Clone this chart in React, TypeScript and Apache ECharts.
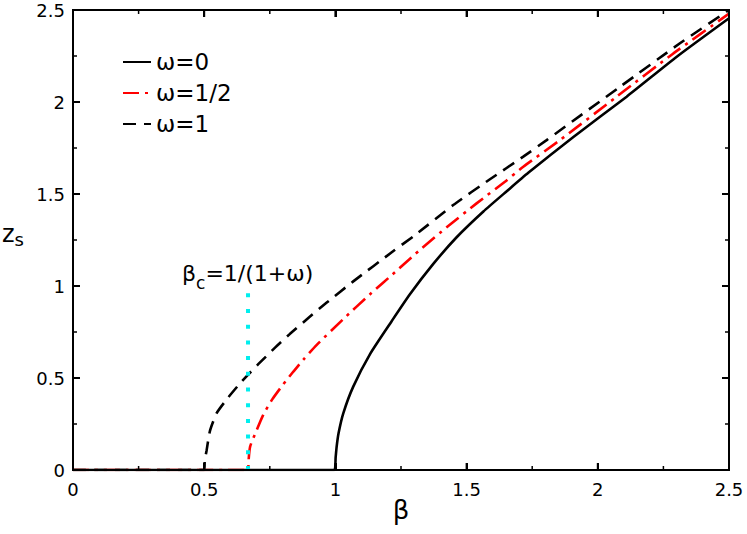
import React, { useEffect, useRef } from "react";
import * as echarts from "echarts";

// ω = 0 (solid black)
const beta0 = [0, 0.996, 1.001, 1.005, 1.012, 1.03, 1.068, 1.132, 1.215, 1.284, 1.373, 1.462, 1.564, 1.653, 1.735, 1.907, 2.11, 2.301, 2.5];
const z0 = [0, 0, 0.07, 0.13, 0.2, 0.308, 0.453, 0.63, 0.81, 0.955, 1.12, 1.265, 1.405, 1.515, 1.615, 1.81, 2.029, 2.246, 2.455];

// ω = 1/2 (red dash-dot)
const betaHalf = [0, 0.667, 0.669, 0.675, 0.7, 0.725, 0.76, 0.801, 0.84, 0.878, 0.929, 1.03, 1.132, 1.227, 1.329, 1.43, 1.538, 1.646, 1.716, 1.856, 2.072, 2.288, 2.5];
const zHalf = [0, 0, 0.05, 0.127, 0.217, 0.3, 0.385, 0.465, 0.535, 0.6, 0.68, 0.82, 0.955, 1.075, 1.205, 1.326, 1.449, 1.567, 1.648, 1.793, 2.029, 2.264, 2.48];

// ω = 1 (black dashed)
const beta1 = [0, 0.5, 0.502, 0.509, 0.522, 0.548, 0.592, 0.63, 0.662, 0.706, 0.77, 0.827, 0.9, 0.967, 1.068, 1.221, 1.303, 1.449, 1.589, 1.716, 1.805, 2.085, 2.313, 2.5];
const z1 = [0, 0, 0.05, 0.105, 0.213, 0.31, 0.395, 0.46, 0.51, 0.575, 0.665, 0.74, 0.83, 0.91, 1.025, 1.19, 1.276, 1.44, 1.58, 1.703, 1.793, 2.083, 2.319, 2.5];

// critical line β_c = 1/(1+ω) for ω = 1/2
const betaC = [0.667, 0.667];
const zC = [0, 0.96];

const seriesNames = ["ω=0", "ω=1/2", "ω=1"];
const axisMin = 0;
const axisMax = 2.5;
const axisStep = 0.5;
const majorTicks = [0, 0.5, 1, 1.5, 2, 2.5];
const minorTicks = [0.25, 0.75, 1.25, 1.75, 2.25];

const pairs = (xs: number[], ys: number[]) => xs.map((x, i) => [x, ys[i]]);

const FONT = "DejaVu Sans";
const W = 747;
const H = 534;
const GRID = { left: 73, right: 18, top: 10, bottom: 64 };

const frame = [
  [axisMin, axisMin],
  [axisMax, axisMin],
  [axisMax, axisMax],
  [axisMin, axisMax],
  [axisMin, axisMin],
];

const labelGraphics = [
  {
    id: "zs",
    type: "text",
    left: 2,
    top: 220,
    style: {
      text: "{a|z}{b|s}",
      rich: {
        a: { fontFamily: FONT, fontSize: 24, fill: "#000", lineHeight: 30 },
        b: { fontFamily: FONT, fontSize: 18, fill: "#000", lineHeight: 30, padding: [10, 0, 0, 0] },
      },
    },
  },
  {
    id: "betac",
    type: "text",
    left: 182,
    top: 256,
    style: {
      text: "{a|β}{b|c}{a|=1/(1+ω)}",
      rich: {
        a: { fontFamily: FONT, fontSize: 22, fill: "#000", lineHeight: 30 },
        b: { fontFamily: FONT, fontSize: 17, fill: "#000", lineHeight: 30, padding: [18, 0, 0, 0] },
      },
    },
  },
];

export default function App() {
  const ref = useRef<HTMLDivElement>(null);

  useEffect(() => {
    document.body.style.margin = "0";
    if (!ref.current) return;
    const chart = echarts.init(ref.current, null, { renderer: "svg" });

    const axisCommon = (withLabels: boolean) => ({
      type: "value",
      min: axisMin,
      max: axisMax,
      interval: axisStep,
      axisLine: { show: true, onZero: false, lineStyle: { color: "#000", width: 2 } },
      axisTick: { show: true, inside: true, length: 7, lineStyle: { color: "#000", width: 2 } },
      minorTick: { show: false },
      splitLine: { show: false },
      minorSplitLine: { show: false },
      axisLabel: withLabels
        ? { show: true, fontFamily: FONT, fontSize: 18, color: "#000" }
        : { show: false },
    });

    chart.setOption({
      animation: false,
      grid: { ...GRID, containLabel: false },
      legend: {
        data: seriesNames,
        orient: "vertical",
        left: 117,
        top: 45,
        itemWidth: 28,
        itemHeight: 14,
        itemGap: 7,
        itemStyle: { opacity: 0 },
        textStyle: { fontFamily: FONT, fontSize: 23, color: "#000", lineHeight: 24 },
      },
      xAxis: [
        {
          ...axisCommon(true),
          position: "bottom",
          name: "β",
          nameLocation: "middle",
          nameGap: 27,
          nameMoveOverlap: false,
          nameTextStyle: { fontFamily: FONT, fontSize: 26, color: "#000" },
          axisLabel: { show: true, margin: 10, fontFamily: FONT, fontSize: 18, color: "#000" },
        },
        { ...axisCommon(false), position: "top" },
      ],
      yAxis: [
        {
          ...axisCommon(true),
          position: "left",
          axisLabel: { show: true, margin: 8, fontFamily: FONT, fontSize: 18, color: "#000", padding: [5, 0, 0, 0] },
        },
        { ...axisCommon(false), position: "right" },
      ],
      series: [
        {
          name: "frame",
          type: "line",
          data: frame,
          symbol: "none",
          lineStyle: { color: "#000", width: 2, type: "solid" },
          itemStyle: { color: "#000" },
        },
        {
          name: seriesNames[0],
          type: "line",
          data: pairs(beta0, z0),
          symbol: "none",
          smooth: 0.2,
          lineStyle: { color: "#000", width: 2.6, type: "solid" },
          itemStyle: { color: "#000" },
        },
        {
          name: seriesNames[1],
          type: "line",
          data: pairs(betaHalf, zHalf),
          symbol: "none",
          smooth: 0.2,
          lineStyle: { color: "#ff0000", width: 2.6, type: [16, 6, 3, 6], cap: "butt" },
          itemStyle: { color: "#ff0000" },
        },
        {
          name: seriesNames[2],
          type: "line",
          data: pairs(beta1, z1),
          symbol: "none",
          smooth: 0.2,
          lineStyle: { color: "#000", width: 2.6, type: [13, 8], cap: "butt" },
          itemStyle: { color: "#000" },
        },
        {
          name: "βc",
          type: "line",
          data: pairs(betaC, zC),
          symbol: "none",
          lineStyle: { color: "#00eeee", width: 4, type: [4, 11.7], cap: "butt" },
          itemStyle: { color: "#00eeee" },
          z: 5,
        },
      ],
      graphic: labelGraphics,
    });

    // frame and inward ticks on all four sides, placed through the chart's own scales
    const px = (v: number[]) => chart.convertToPixel({ gridIndex: 0 }, v) as number[];
    const lo = px([axisMin, axisMin]);
    const hi = px([axisMax, axisMax]);
    const tickEls: any[] = [];
    const addTicks = (values: number[], len: number, width: number, tag: string) => {
      values.forEach((v, i) => {
        const bx = px([v, axisMin])[0];
        const ly = px([axisMin, v])[1];
        const style = { stroke: "#000", lineWidth: width, fill: "none" };
        tickEls.push(
          { id: `${tag}b${i}`, type: "line", z: 10, shape: { x1: bx, y1: lo[1], x2: bx, y2: lo[1] - len }, style },
          { id: `${tag}t${i}`, type: "line", z: 10, shape: { x1: bx, y1: hi[1], x2: bx, y2: hi[1] + len }, style },
          { id: `${tag}l${i}`, type: "line", z: 10, shape: { x1: lo[0], y1: ly, x2: lo[0] + len, y2: ly }, style },
          { id: `${tag}r${i}`, type: "line", z: 10, shape: { x1: hi[0], y1: ly, x2: hi[0] - len, y2: ly }, style }
        );
      });
    };
    addTicks(majorTicks, 7, 2, "M");
    addTicks(minorTicks, 4, 1.5, "m");
    chart.setOption({
      graphic: [
        ...labelGraphics,
        {
          id: "box",
          type: "rect",
          z: 10,
          shape: { x: lo[0], y: hi[1], width: hi[0] - lo[0], height: lo[1] - hi[1] },
          style: { fill: "none", stroke: "#000", lineWidth: 2 },
        },
        ...tickEls,
      ],
    });

    return () => chart.dispose();
  }, []);

  return <div ref={ref} style={{ width: W, height: H }} />;
}
